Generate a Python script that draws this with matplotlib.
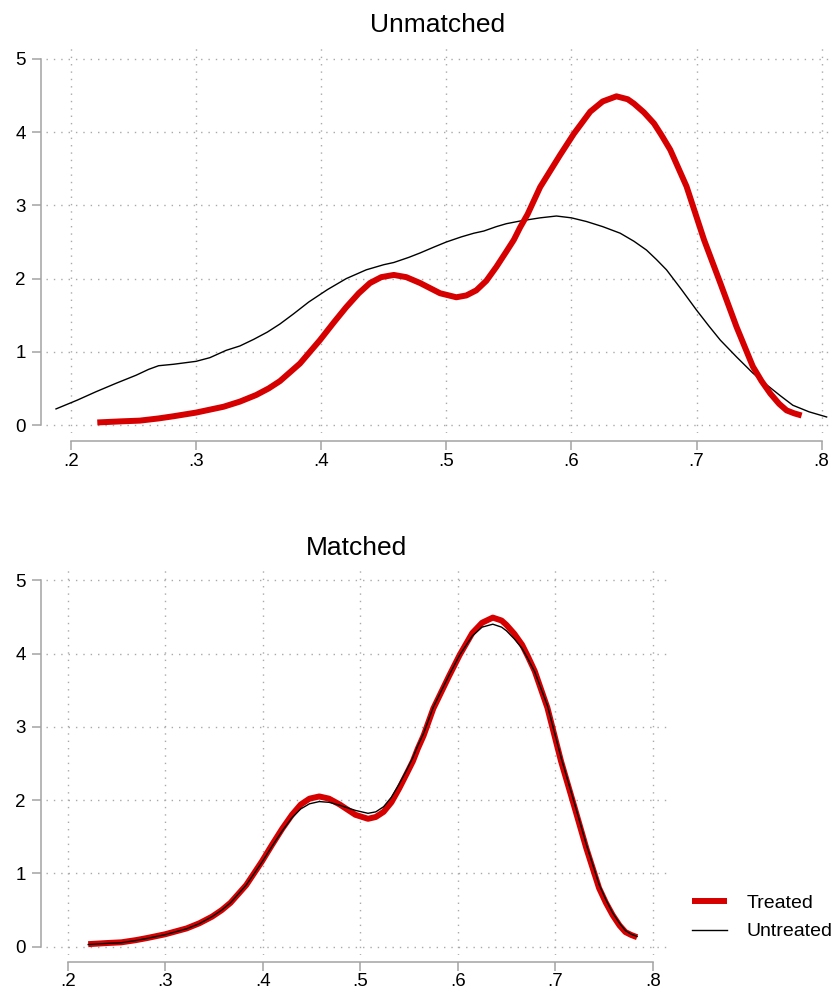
import matplotlib
matplotlib.use("Agg")
import matplotlib.pyplot as plt

plt.rcParams['font.family'] = ['Liberation Sans', 'DejaVu Sans']

# propensity score densities
treated_x = [0.221, 0.240, 0.255, 0.270, 0.282, 0.300, 0.322, 0.335, 0.348, 0.358,
             0.367, 0.383, 0.399, 0.410, 0.420, 0.430, 0.439, 0.448, 0.458, 0.468,
             0.479, 0.495, 0.508, 0.516, 0.524, 0.532, 0.540, 0.548, 0.554, 0.559,
             0.565, 0.575, 0.591, 0.602, 0.615, 0.625, 0.636, 0.645, 0.650, 0.658,
             0.666, 0.672, 0.679, 0.692, 0.706, 0.719, 0.732, 0.745, 0.752, 0.759,
             0.766, 0.772, 0.778, 0.784]
treated_y = [0.035, 0.05, 0.06, 0.09, 0.12, 0.17, 0.25, 0.32, 0.41, 0.50,
             0.60, 0.84, 1.16, 1.40, 1.61, 1.80, 1.94, 2.02, 2.05, 2.02,
             1.94, 1.80, 1.745, 1.77, 1.84, 1.97, 2.16, 2.37, 2.53, 2.70,
             2.88, 3.25, 3.69, 3.98, 4.28, 4.42, 4.49, 4.45, 4.39, 4.27,
             4.12, 3.96, 3.76, 3.26, 2.53, 1.94, 1.34, 0.80, 0.60, 0.43,
             0.29, 0.20, 0.16, 0.13]

untreated_x = [0.188, 0.205, 0.220, 0.236, 0.252, 0.262, 0.270, 0.282, 0.300, 0.311,
               0.324, 0.335, 0.346, 0.357, 0.367, 0.378, 0.390, 0.405, 0.420, 0.436,
               0.450, 0.458, 0.470, 0.479, 0.490, 0.500, 0.512, 0.522, 0.530, 0.540,
               0.548, 0.560, 0.575, 0.588, 0.600, 0.612, 0.625, 0.639, 0.650, 0.660,
               0.668, 0.676, 0.688, 0.700, 0.710, 0.719, 0.732, 0.745, 0.756, 0.767,
               0.777, 0.790, 0.804]
untreated_y = [0.22, 0.34, 0.455, 0.57, 0.68, 0.76, 0.81, 0.83, 0.87, 0.92,
               1.02, 1.08, 1.17, 1.27, 1.38, 1.52, 1.68, 1.85, 2.00, 2.12,
               2.19, 2.22, 2.29, 2.35, 2.43, 2.50, 2.57, 2.62, 2.65, 2.71,
               2.75, 2.79, 2.83, 2.855, 2.83, 2.78, 2.71, 2.62, 2.51, 2.39,
               2.26, 2.12, 1.85, 1.57, 1.35, 1.16, 0.93, 0.71, 0.55, 0.40,
               0.27, 0.18, 0.11]

matched_x = treated_x
matched_y = [0.03, 0.045, 0.055, 0.085, 0.115, 0.165, 0.245, 0.315, 0.41, 0.50,
             0.60, 0.84, 1.15, 1.38, 1.58, 1.76, 1.88, 1.95, 1.98, 1.97,
             1.93, 1.86, 1.82, 1.84, 1.91, 2.04, 2.22, 2.42, 2.58, 2.74,
             2.91, 3.27, 3.70, 3.98, 4.24, 4.36, 4.40, 4.36, 4.31, 4.20,
             4.07, 3.93, 3.75, 3.29, 2.58, 1.99, 1.39, 0.85, 0.64, 0.46,
             0.32, 0.22, 0.17, 0.14]

x_ticks = [0.2, 0.3, 0.4, 0.5, 0.6, 0.7, 0.8]
x_labels = ['.2', '.3', '.4', '.5', '.6', '.7', '.8']
y_ticks = [0, 1, 2, 3, 4, 5]

RED = '#d70000'
SPINE = '#a3a3a3'
W, H = 839, 997


def px_box(l, r, t, b):
    return [l / W, 1 - b / H, (r - l) / W, (b - t) / H]


def style(ax, xlim, ylim, xoff, yoff):
    ax.set_xlim(*xlim)
    ax.set_ylim(*ylim)
    ax.set_xticks(x_ticks)
    ax.set_xticklabels(x_labels)
    ax.set_yticks(y_ticks)
    ax.grid(True, color='#a9a9a9', linestyle=(0, (1, 4.3)), linewidth=1.0)
    ax.set_axisbelow(True)
    for s in ('top', 'right'):
        ax.spines[s].set_visible(False)
    ax.spines['left'].set_position(('outward', yoff))
    ax.spines['bottom'].set_position(('outward', xoff))
    ax.spines['left'].set_bounds(0, 5)
    ax.spines['bottom'].set_bounds(0.2, 0.8)
    for s in ('left', 'bottom'):
        ax.spines[s].set_color(SPINE)
        ax.spines[s].set_linewidth(1.1)
    ax.tick_params(axis='both', direction='out', length=6.5, width=1.1,
                   color=SPINE, labelsize=13.5)
    ax.tick_params(axis='y', pad=4.5)
    ax.tick_params(axis='x', pad=2)


fig = plt.figure(figsize=(W / 100, H / 100), dpi=100)

# unmatched
ax1 = fig.add_axes(px_box(46, 830, 45, 433))
ax1.plot(untreated_x, untreated_y, color='black', lw=1.0, zorder=3,
         solid_joinstyle='round')
ax1.plot(treated_x, treated_y, color=RED, lw=4.3, zorder=4,
         solid_capstyle='butt', solid_joinstyle='round')
style(ax1, (0.18, 0.8067), (-0.109, 5.191), 5.8, 3.6)
fig.text(438 / W, 1 - 32 / H, 'Unmatched', ha='center', va='baseline', fontsize=19)

# matched
ax2 = fig.add_axes(px_box(46, 668, 566, 955))
ax2.plot(treated_x, treated_y, color=RED, lw=4.3, zorder=3,
         solid_capstyle='butt', solid_joinstyle='round', label='Treated')
ax2.plot(matched_x, matched_y, color='black', lw=1.0, zorder=4,
         solid_joinstyle='round', label='Untreated')
style(ax2, (0.1777, 0.8157), (-0.113, 5.194), 4.8, 3.6)
fig.text(357 / W, 1 - 555 / H, 'Matched', ha='center', va='baseline', fontsize=19)

fig.legend(loc='center left', bbox_to_anchor=(692 / W, 1 - 917.5 / H),
           frameon=False, fontsize=14, handlelength=1.8, handletextpad=1.0,
           labelspacing=0.55, borderpad=0, borderaxespad=0)

fig.savefig('out.png', dpi=100)
